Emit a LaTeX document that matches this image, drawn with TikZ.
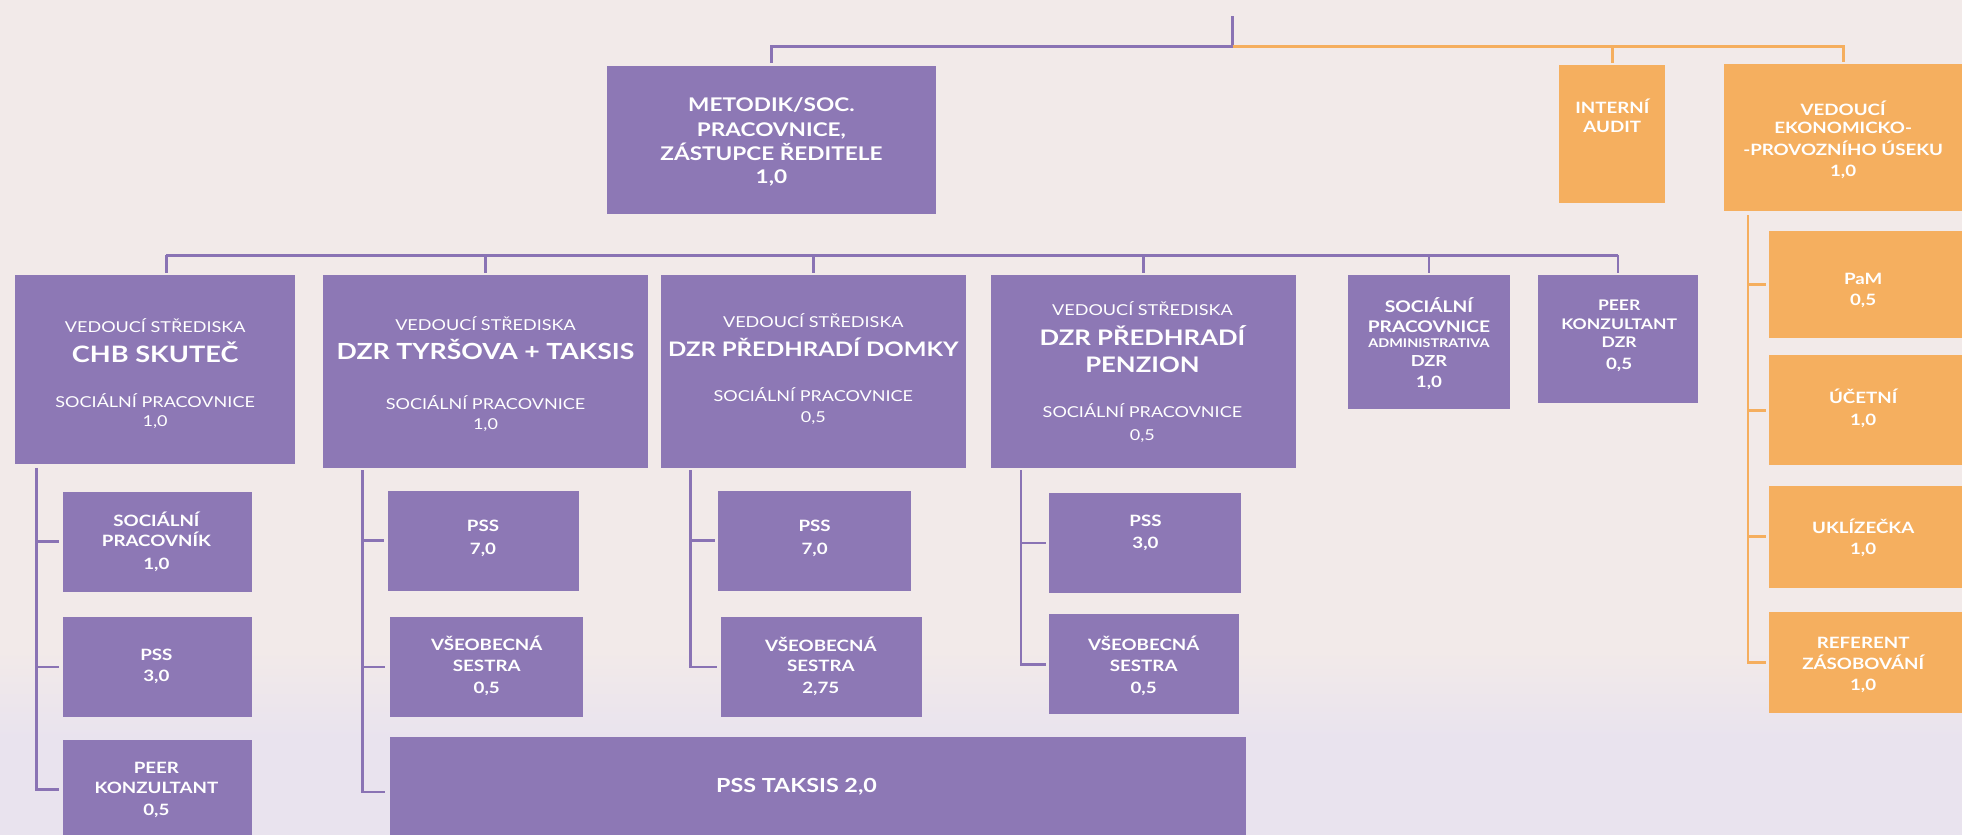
\documentclass[tikz,border=0pt]{standalone}
\usepackage{fontspec}
\setmainfont{Lato}[FakeStretch=1.2]
\definecolor{cPurple}{HTML}{8D78B5}
\definecolor{cPLine}{HTML}{8A73B4}
\definecolor{cOrange}{HTML}{F5AF5F}
\definecolor{cOLine}{HTML}{F5AE5E}
\definecolor{bgTop}{HTML}{F2EAE9}
\definecolor{bgBot}{HTML}{E9E3EE}
\tikzset{
  boxbase/.style={draw=none, inner sep=0pt, outer sep=0pt},
  pbox/.style={boxbase, fill=cPurple},
  obox/.style={boxbase, fill=cOrange},
  sz/.style 2 args={minimum width=#1*0.625pt, minimum height=#2*0.625pt},
  tx/.style={text=white, inner sep=0pt, anchor=base},
  rg/.style={tx, font=\fontsize{7.5}{9}\selectfont},
  bl/.style={tx, font=\fontsize{#1}{13}\selectfont\bfseries},
  bl/.default=11.3,
  bb/.style={tx, font=\fontsize{7.8}{10}\selectfont\bfseries},
  bm/.style={tx, font=\fontsize{9.4}{11}\selectfont\bfseries},
  bs/.style={tx, font=\fontsize{#1}{9}\selectfont\bfseries},
  bs/.default=7.3,
  bxs/.style={tx, font=\fontsize{6}{7}\selectfont\bfseries},
  bt/.style={tx, font=\fontsize{9.7}{12}\selectfont\bfseries},
  pl/.style={draw=cPLine, line width=1.4pt},
  ol/.style={draw=cOLine, line width=1.4pt},
}
\newcommand\tline[5]{\node[#1] (#2) at (#3,#4) {#5};}
\begin{document}
\begin{tikzpicture}[x=0.625pt, y=-0.625pt]
\useasboundingbox (0,0) rectangle (1568,667);
\clip (0,0) rectangle (1568,667);
% background
\fill[bgTop] (0,0) rectangle (1568,520);
\shade[top color=bgTop, bottom color=bgBot] (0,519) rectangle (1568,590);
\fill[bgBot] (0,589) rectangle (1568,667);

% ---------- boxes ----------
\node[pbox, sz={263}{118}] (metodik) at (616.5,112) {};
\node[obox, sz={85}{110}] (audit) at (1288.5,107) {};
\node[obox, sz={190}{118}] (ekon) at (1473,110) {};

\node[pbox, sz={224}{151}] (chb) at (124,295.5) {};
\node[pbox, sz={260}{154}] (tyr) at (388,297) {};
\node[pbox, sz={244}{154}] (domky) at (650,297) {};
\node[pbox, sz={244}{154}] (penz) at (914,297) {};
\node[pbox, sz={130}{107}] (socadm) at (1142,273.5) {};
\node[pbox, sz={128}{102}] (peerdzr) at (1293,271) {};

\node[pbox, sz={151}{80}] (cs1) at (125.5,433) {};
\node[pbox, sz={151}{80}] (cs2) at (125.5,533) {};
\node[pbox, sz={151}{80}] (cs3) at (125.5,631) {};

\node[pbox, sz={153}{80}] (ts1) at (386.5,432) {};
\node[pbox, sz={154}{80}] (ts2) at (389,533) {};
\node[pbox, sz={684}{88}] (ts3) at (654,633) {};

\node[pbox, sz={154}{80}] (ds1) at (651,432) {};
\node[pbox, sz={161}{80}] (ds2) at (656.5,533) {};

\node[pbox, sz={154}{80}] (ps1) at (915,434) {};
\node[pbox, sz={152}{80}] (ps2) at (914,531) {};

\node[obox, sz={154}{85}] (os1) at (1491,227.5) {};
\node[obox, sz={154}{88}] (os2) at (1491,328) {};
\node[obox, sz={154}{82}] (os3) at (1491,429) {};
\node[obox, sz={154}{81}] (os4) at (1491,529.5) {};

% ---------- connectors ----------
\coordinate (top) at (985,13);
\coordinate (topj) at (985,37);
\draw[pl, shorten >=1.5pt] (top) -- (topj) -| (metodik.north);
\draw[ol, shorten >=1pt] (topj) -| (audit.north);
\draw[ol, shorten >=1pt] (topj) -| (ekon.north);

\coordinate (barL) at (133,204);
\coordinate (barR) at (1293,204);
\draw[pl] (barL) -- (barR);
\draw[pl, shorten >=1pt] (barL) -- (barL |- chb.north);
\draw[pl, shorten >=1pt] (tyr.north |- barL) -- (tyr.north);
\draw[pl, shorten >=1pt] (domky.north |- barL) -- (domky.north);
\draw[pl, shorten >=1pt] (penz.north |- barL) -- (penz.north);
\draw[pl, shorten >=1pt] (socadm.north |- barL) -- (socadm.north);
\draw[pl, shorten >=1pt] (peerdzr.north |- barL) -- (peerdzr.north);

\coordinate (chbv) at (29,374);
\draw[pl, shorten >=2pt] (chbv) |- (cs3.west);
\draw[pl, shorten >=2pt] (chbv |- cs1.west) -- (cs1.west);
\draw[pl, shorten >=2pt] (chbv |- cs2.west) -- (cs2.west);

\coordinate (tyrv) at (290,376);
\draw[pl, shorten >=2.5pt] (tyrv) |- (ts3.west);
\draw[pl, shorten >=2pt] (tyrv |- ts1.west) -- (ts1.west);
\draw[pl, shorten >=2.5pt] (tyrv |- ts2.west) -- (ts2.west);

\coordinate (domv) at (552,376);
\draw[pl, shorten >=2pt] (domv) |- (ds2.west);
\draw[pl, shorten >=1.5pt] (domv |- ds1.west) -- (ds1.west);

\coordinate (penv) at (816,376);
\draw[pl, shorten >=1.5pt] (penv) |- (ps2.west);
\draw[pl, shorten >=1.5pt] (penv |- ps1.west) -- (ps1.west);

\coordinate (ekv) at (1397,172);
\draw[ol, shorten >=1.5pt] (ekv) |- (os4.west);
\draw[ol, shorten >=1.5pt] (ekv |- os1.west) -- (os1.west);
\draw[ol, shorten >=1.5pt] (ekv |- os2.west) -- (os2.west);
\draw[ol, shorten >=1.5pt] (ekv |- os3.west) -- (os3.west);

% ---------- texts ----------
\tline{bm}{m1}{616.5}{89}{METODIK/SOC.}
\tline{bm}{m2}{616.5}{109}{PRACOVNICE,}
\tline{bm}{m3}{616.5}{128}{ZÁSTUPCE ŘEDITELE}
\tline{bm}{m4}{616.5}{147}{1,0}

\tline{bb}{a1}{1288.5}{91}{INTERNÍ}
\tline{bb}{a2}{1288.5}{106}{AUDIT}

\tline{bb}{e1}{1473}{92}{VEDOUCÍ}
\tline{bb}{e2}{1473}{107}{EKONOMICKO-}
\tline{bb}{e3}{1473}{124}{-PROVOZNÍHO ÚSEKU}
\tline{bb}{e4}{1473}{141}{1,0}

\tline{rg}{c1}{124}{266}{VEDOUCÍ STŘEDISKA}
\tline{bl}{c2}{124}{290}{CHB SKUTEČ}
\tline{rg}{c3}{124}{326}{SOCIÁLNÍ PRACOVNICE}
\tline{rg}{c4}{124}{341}{1,0}

\tline{rg}{y1}{388}{264}{VEDOUCÍ STŘEDISKA}
\tline{bl=11.1}{y2}{388}{287}{DZR TYRŠOVA + TAKSIS}
\tline{rg}{y3}{388}{327}{SOCIÁLNÍ PRACOVNICE}
\tline{rg}{y4}{388}{343}{1,0}

\tline{rg}{k1}{650}{262}{VEDOUCÍ STŘEDISKA}
\tline{bl=10}{k2}{650}{285}{DZR PŘEDHRADÍ DOMKY}
\tline{rg}{k3}{650}{321}{SOCIÁLNÍ PRACOVNICE}
\tline{rg}{k4}{650}{338}{0,5}

\tline{rg}{n1}{913}{252.5}{VEDOUCÍ STŘEDISKA}
\tline{bl=10.7}{n2}{913}{276}{DZR PŘEDHRADÍ}
\tline{bl=10.7}{n3}{913}{298}{PENZION}
\tline{rg}{n4}{913}{334}{SOCIÁLNÍ PRACOVNICE}
\tline{rg}{n5}{913}{352}{0,5}

\tline{bs=8}{s1}{1142}{250}{SOCIÁLNÍ}
\tline{bs=8}{s2}{1142}{265.5}{PRACOVNICE}
\tline{bxs}{s3}{1142}{278}{ADMINISTRATIVA}
\tline{bs=7.6}{s4}{1142}{293}{DZR}
\tline{bb}{s5}{1142}{310}{1,0}

\tline{bs}{r1}{1294}{248}{PEER}
\tline{bs}{r2}{1294}{263}{KONZULTANT}
\tline{bs}{r3}{1294}{278}{DZR}
\tline{bb}{r4}{1294}{295}{0,5}

\tline{bb}{cs1a}{125}{421}{SOCIÁLNÍ}
\tline{bb}{cs1b}{125}{437}{PRACOVNÍK}
\tline{bb}{cs1c}{125}{455.5}{1,0}
\tline{bb}{cs2a}{125}{527.5}{PSS}
\tline{bb}{cs2b}{125}{545}{3,0}
\tline{bb}{cs3a}{125}{618}{PEER}
\tline{bb}{cs3b}{125}{634.5}{KONZULTANT}
\tline{bb}{cs3c}{125}{652}{0,5}

\tline{bb}{ts1a}{386}{425}{PSS}
\tline{bb}{ts1b}{386}{443}{7,0}
\tline{bb}{ts2a}{389}{520}{VŠEOBECNÁ}
\tline{bb}{ts2b}{389}{537}{SESTRA}
\tline{bb}{ts2c}{389}{554}{0,5}
\node[bt, anchor=base west] (ts3a) at (572,633) {PSS TAKSIS 2,0};

\tline{bb}{ds1a}{651}{425}{PSS}
\tline{bb}{ds1b}{651}{443}{7,0}
\tline{bb}{ds2a}{656}{521}{VŠEOBECNÁ}
\tline{bb}{ds2b}{656}{537}{SESTRA}
\tline{bb}{ds2c}{656}{554}{2,75}

\tline{bb}{ps1a}{915.5}{421}{PSS}
\tline{bb}{ps1b}{915.5}{438.7}{3,0}
\tline{bb}{ps2a}{914}{520}{VŠEOBECNÁ}
\tline{bb}{ps2b}{914}{537}{SESTRA}
\tline{bb}{ps2c}{914}{554}{0,5}

\tline{bb}{os1a}{1489}{227}{PaM}
\tline{bb}{os1b}{1489}{244}{0,5}
\tline{bb}{os2a}{1489}{322.5}{ÚČETNÍ}
\tline{bb}{os2b}{1489}{340}{1,0}
\tline{bb}{os3a}{1489}{426}{UKLÍZEČKA}
\tline{bb}{os3b}{1489}{443.5}{1,0}
\tline{bb}{os4a}{1489}{518}{REFERENT}
\tline{bb}{os4b}{1489}{535}{ZÁSOBOVÁNÍ}
\tline{bb}{os4c}{1489}{551.5}{1,0}
\end{tikzpicture}
\end{document}
